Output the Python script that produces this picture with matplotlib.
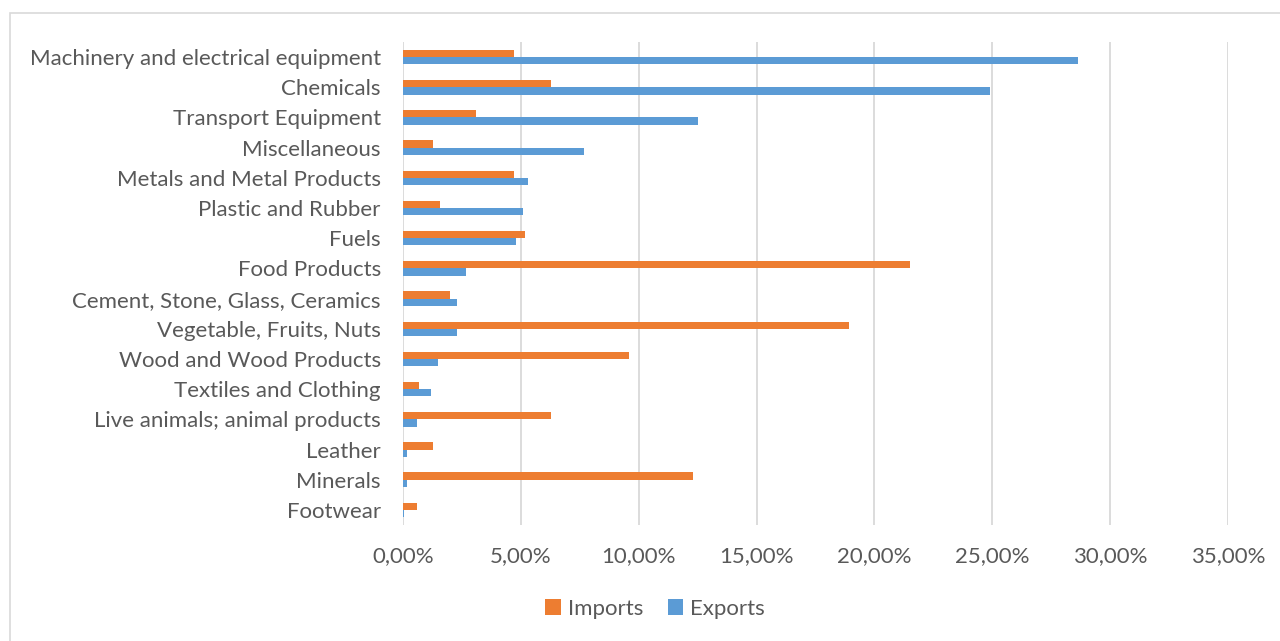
import matplotlib
matplotlib.use("Agg")
import matplotlib.pyplot as plt
from matplotlib.patches import Rectangle
from matplotlib.ticker import FuncFormatter
import numpy as np

# Product groups, top to bottom
categories = [
    "Machinery and electrical equipment",
    "Chemicals",
    "Transport Equipment",
    "Miscellaneous",
    "Metals and Metal Products",
    "Plastic and Rubber",
    "Fuels",
    "Food Products",
    "Cement, Stone, Glass, Ceramics",
    "Vegetable, Fruits, Nuts",
    "Wood and Wood Products",
    "Textiles and Clothing",
    "Live animals; animal products",
    "Leather",
    "Minerals",
    "Footwear",
]

# Shares in percent
imports = [4.69, 6.29, 3.10, 1.29, 4.69, 1.59, 5.18, 21.52, 2.00, 18.93, 9.60, 0.69, 6.29, 1.29, 12.31, 0.58]
exports = [28.63, 24.92, 12.51, 7.69, 5.30, 5.10, 4.79, 2.69, 2.29, 2.29, 1.49, 1.19, 0.58, 0.18, 0.18, 0.06]

x_ticks = [0, 5, 10, 15, 20, 25, 30, 35]

orange = "#ED7D31"
blue = "#5B9BD5"
text_col = "#595959"
grid_col = "#D9D9D9"

plt.rcParams["font.family"] = ["Lato", "DejaVu Sans"]

fig = plt.figure(figsize=(12.8, 6.41), dpi=100)
ax = fig.add_axes([403 / 1280, 1 - 525 / 641, 825 / 1280, 483 / 641])

# chart frame (only left and top edges fall inside the image)
fig.patches.append(Rectangle((10 / 1280, -0.1), 1.1, 1.1 - 13 / 641, transform=fig.transFigure,
                             fill=False, edgecolor="#D9D9D9", linewidth=1.2))

y = np.arange(len(categories))
h = 0.24
ax.barh(y - h / 2, imports, height=h, color=orange, label="Imports")
ax.barh(y + h / 2, exports, height=h, color=blue, label="Exports")

ax.set_ylim(len(categories) - 0.5, -0.5)
ax.set_xlim(0, 35)
ax.set_xticks(x_ticks)
ax.xaxis.set_major_formatter(FuncFormatter(lambda v, p: f"{v:.2f}".replace(".", ",") + "%"))
ax.set_yticks(y)
ax.set_yticklabels(categories)

ax.grid(axis="x", color=grid_col, linewidth=1.3)
ax.set_axisbelow(True)
for s in ["top", "right", "bottom", "left"]:
    ax.spines[s].set_visible(False)
ax.tick_params(axis="both", length=0, labelsize=16, labelcolor=text_col)
ax.tick_params(axis="y", pad=16)
ax.tick_params(axis="x", pad=15)

fig.legend(loc="center", bbox_to_anchor=(655 / 1280, 1 - 609 / 641), ncol=2, frameon=False,
           fontsize=16, labelcolor=text_col, handlelength=0.7, handleheight=0.7,
           handletextpad=0.3, columnspacing=1.1)

fig.savefig("out.png", dpi=100)
